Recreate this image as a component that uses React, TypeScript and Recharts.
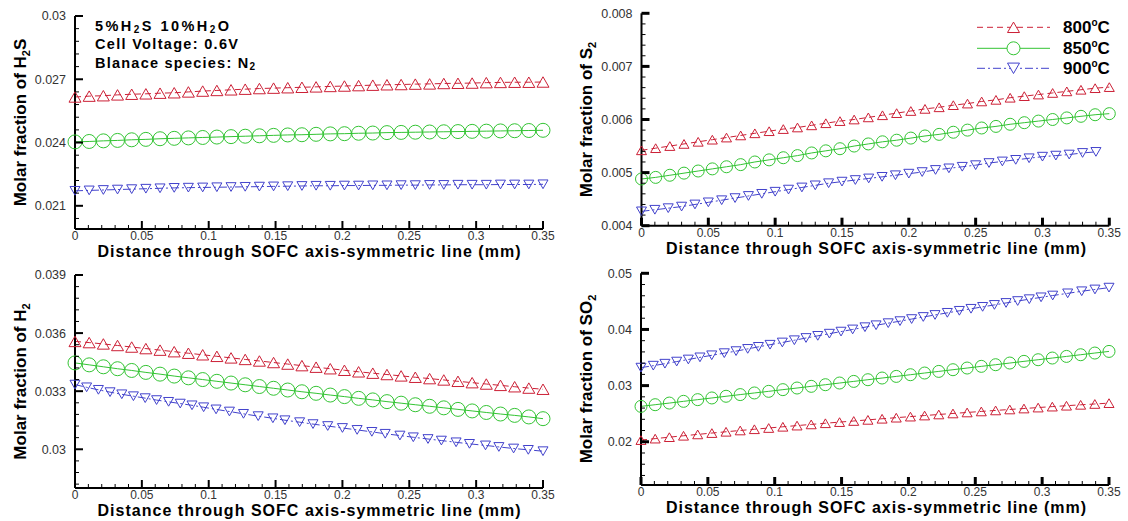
import { Line, LineChart, XAxis, YAxis } from "recharts";

const FONT = "'Liberation Sans', Arial, sans-serif";
const RED = "#cc2036";
const GREEN = "#33c433";
const BLUE = "#4242cc";

// x positions of the markers (mm)
const X_STD = [
  0, 0.0106, 0.0212, 0.0318, 0.0424, 0.053, 0.0636, 0.0742, 0.0848, 0.0955,
  0.1061, 0.1167, 0.1273, 0.1379, 0.1485, 0.1591, 0.1697, 0.1803, 0.1909, 0.2015,
  0.2121, 0.2227, 0.2333, 0.2439, 0.2545, 0.2652, 0.2758, 0.2864, 0.297, 0.3076,
  0.3182, 0.3288, 0.3394, 0.35,
];
const X_S2_900 = [
  0, 0.01, 0.02, 0.03, 0.04, 0.05, 0.06, 0.07, 0.08, 0.09, 0.1, 0.11, 0.12, 0.13,
  0.14, 0.15, 0.16, 0.17, 0.18, 0.19, 0.2, 0.21, 0.22, 0.23, 0.24, 0.25, 0.26,
  0.27, 0.28, 0.29, 0.3, 0.31, 0.32, 0.33, 0.34,
];
const X_H2_900 = [
  0, 0.0087, 0.0175, 0.0262, 0.035, 0.0437, 0.0525, 0.061, 0.07, 0.0787,
  0.0875, 0.0962, 0.1055, 0.1155, 0.126, 0.137, 0.148, 0.157, 0.168, 0.178,
  0.189, 0.2, 0.211, 0.222, 0.232, 0.243, 0.253, 0.264, 0.274, 0.285,
  0.295, 0.307, 0.317, 0.328, 0.339, 0.35,
];
const X_SO2_900 = [
  0, 0.0092, 0.0179, 0.0267, 0.0354, 0.0441, 0.0529, 0.0623, 0.0711, 0.0798,
  0.0878, 0.0965, 0.1057, 0.1147, 0.1234, 0.1322, 0.1409, 0.1496, 0.1583, 0.1675,
  0.1758, 0.1849, 0.1937, 0.2024, 0.2111, 0.2199, 0.2291, 0.2381, 0.2468, 0.2555,
  0.2643, 0.273, 0.2817, 0.2904, 0.2992, 0.3079, 0.3191, 0.3296, 0.3395, 0.35,
];

// H2S molar fraction
const H2S_800 = [
  0.02616, 0.0262, 0.02622, 0.02626, 0.02629, 0.02631, 0.02634, 0.02636, 0.0264, 0.02644,
  0.02647, 0.0265, 0.02653, 0.02656, 0.02658, 0.0266, 0.02662, 0.02664, 0.02666, 0.02668,
  0.0267, 0.02672, 0.02674, 0.02675, 0.02677, 0.02678, 0.0268, 0.02681, 0.02682, 0.02684,
  0.02685, 0.02686, 0.02686, 0.02687,
];
const H2S_850 = [
  0.02403, 0.02405, 0.02408, 0.0241, 0.02413, 0.02415, 0.02418, 0.0242, 0.02422, 0.02424,
  0.02426, 0.02428, 0.0243, 0.02432, 0.02434, 0.02436, 0.02437, 0.02439, 0.02441, 0.02442,
  0.02444, 0.02445, 0.02447, 0.02448, 0.02449, 0.0245, 0.02451, 0.02452, 0.02453, 0.02454,
  0.02455, 0.02456, 0.02457, 0.02458,
];
const H2S_900 = [
  0.02171, 0.02173, 0.02175, 0.02177, 0.02179, 0.02181, 0.02183, 0.02185, 0.02186, 0.02187,
  0.02188, 0.02189, 0.0219, 0.02191, 0.02192, 0.02193, 0.02194, 0.02195, 0.02195, 0.02196,
  0.02196, 0.02197, 0.02197, 0.02198, 0.02198, 0.02199, 0.02199, 0.022, 0.022, 0.022,
  0.02201, 0.02201, 0.02201, 0.02202,
];

// S2 molar fraction
const S2_800 = [
  0.00542, 0.00546, 0.0055, 0.00554, 0.00558, 0.00562, 0.00566, 0.0057, 0.00574, 0.00578,
  0.00582, 0.00585, 0.00589, 0.00593, 0.00597, 0.006, 0.00604, 0.00608, 0.00612, 0.00616,
  0.0062, 0.00623, 0.00627, 0.0063, 0.00634, 0.00637, 0.00641, 0.00644, 0.00647, 0.0065,
  0.00653, 0.00656, 0.00659, 0.00661,
];
const S2_850 = [
  0.00488, 0.00491, 0.00495, 0.00499, 0.00503, 0.00507, 0.00511, 0.00515, 0.0052, 0.00524,
  0.00528, 0.00532, 0.00537, 0.00541, 0.00545, 0.0055, 0.00554, 0.00558, 0.00561, 0.00565,
  0.00569, 0.00572, 0.00576, 0.0058, 0.00584, 0.00587, 0.00591, 0.00594, 0.00597, 0.006,
  0.00603, 0.00606, 0.00609, 0.00611,
];
const S2_900 = [
  0.00427, 0.0043, 0.00433, 0.00436, 0.0044, 0.00444, 0.00448, 0.00452, 0.00456, 0.0046,
  0.00464, 0.00468, 0.00472, 0.00476, 0.0048, 0.00483, 0.00486, 0.00489, 0.00492, 0.00495,
  0.00498, 0.00501, 0.00505, 0.00508, 0.00511, 0.00514, 0.00518, 0.00521, 0.00524, 0.00527,
  0.0053, 0.00532, 0.00534, 0.00537, 0.00539,
];

// H2 molar fraction
const H2_800 = [
  0.03557, 0.03551, 0.03544, 0.03536, 0.03528, 0.0352, 0.03512, 0.03504, 0.03496, 0.03488,
  0.0348, 0.03472, 0.03464, 0.03456, 0.03448, 0.0344, 0.03432, 0.03424, 0.03416, 0.03408,
  0.034, 0.03393, 0.03386, 0.03379, 0.03372, 0.03365, 0.03358, 0.03351, 0.03344, 0.03337,
  0.0333, 0.03323, 0.03316, 0.0331,
];
const H2_850 = [
  0.03446, 0.03436, 0.03426, 0.03416, 0.03407, 0.03397, 0.03388, 0.03378, 0.03369, 0.0336,
  0.03351, 0.03342, 0.03333, 0.03324, 0.03315, 0.03306, 0.03297, 0.03289, 0.0328, 0.03272,
  0.03263, 0.03255, 0.03246, 0.03238, 0.0323, 0.03222, 0.03214, 0.03206, 0.03198, 0.0319,
  0.03182, 0.03175, 0.03167, 0.03158,
];
const H2_900 = [
  0.03334, 0.0332, 0.03307, 0.03295, 0.03284, 0.03274, 0.03264, 0.03254, 0.03245, 0.03236,
  0.03227, 0.03217, 0.03206, 0.03195, 0.03183, 0.03171, 0.0316, 0.0315, 0.0314, 0.0313,
  0.0312, 0.0311, 0.031, 0.0309, 0.0308, 0.03071, 0.03062, 0.03053, 0.03045, 0.03036,
  0.03028, 0.0302, 0.03012, 0.03004, 0.02997, 0.0299,
];

// SO2 molar fraction
const SO2_800 = [
  0.0203, 0.02056, 0.02082, 0.02107, 0.02131, 0.02155, 0.02178, 0.02201, 0.02223, 0.02245,
  0.02267, 0.02288, 0.02309, 0.0233, 0.0235, 0.0237, 0.0239, 0.0241, 0.02429, 0.02448,
  0.02467, 0.02486, 0.02504, 0.02522, 0.0254, 0.02558, 0.02575, 0.02592, 0.02609, 0.02626,
  0.02642, 0.02658, 0.02673, 0.02688,
];
const SO2_850 = [
  0.0263, 0.0266, 0.02689, 0.0272, 0.0275, 0.0278, 0.0281, 0.0284, 0.02869, 0.02898,
  0.02928, 0.02957, 0.02987, 0.03016, 0.03046, 0.03075, 0.03105, 0.03135, 0.03164, 0.03194,
  0.03224, 0.03253, 0.03283, 0.03313, 0.03343, 0.03372, 0.03402, 0.03432, 0.03461, 0.03491,
  0.0352, 0.0355, 0.0358, 0.03609,
];
const SO2_900 = [
  0.0332, 0.03355, 0.0339, 0.03428, 0.03465, 0.03503, 0.0354, 0.03578, 0.03614, 0.03654,
  0.0369, 0.03728, 0.03768, 0.03808, 0.03848, 0.03886, 0.03925, 0.03962, 0.04, 0.0404,
  0.04075, 0.04112, 0.04148, 0.04185, 0.04222, 0.04258, 0.04296, 0.04332, 0.04368, 0.04402,
  0.04437, 0.04472, 0.04506, 0.04539, 0.04572, 0.04604, 0.04643, 0.0468, 0.04712, 0.04745,
];

// axis ticks
const X_MAJOR = [0, 0.05, 0.1, 0.15, 0.2, 0.25, 0.3, 0.35];
const X_MINOR = [
  0.01, 0.02, 0.03, 0.04, 0.06, 0.07, 0.08, 0.09, 0.11, 0.12, 0.13, 0.14, 0.16, 0.17,
  0.18, 0.19, 0.21, 0.22, 0.23, 0.24, 0.26, 0.27, 0.28, 0.29, 0.31, 0.32, 0.33, 0.34,
];
const H2S_MAJOR = [0.021, 0.024, 0.027, 0.03];
const H2S_MINOR = [0.0204, 0.0216, 0.0222, 0.0228, 0.0234, 0.0246, 0.0252, 0.0258, 0.0264, 0.0276, 0.0282, 0.0288, 0.0294];
const S2_MAJOR = [0.004, 0.005, 0.006, 0.007, 0.008];
const S2_MINOR = [0.0042, 0.0044, 0.0046, 0.0048, 0.0052, 0.0054, 0.0056, 0.0058, 0.0062, 0.0064, 0.0066, 0.0068, 0.0072, 0.0074, 0.0076, 0.0078];
const H2_MAJOR = [0.03, 0.033, 0.036, 0.039];
const H2_MINOR = [0.0282, 0.0288, 0.0294, 0.0306, 0.0312, 0.0318, 0.0324, 0.0336, 0.0342, 0.0348, 0.0354, 0.0366, 0.0372, 0.0378, 0.0384];
const SO2_MAJOR = [0.02, 0.03, 0.04, 0.05];
const SO2_MINOR = [0.014, 0.016, 0.018, 0.022, 0.024, 0.026, 0.028, 0.032, 0.034, 0.036, 0.038, 0.042, 0.044, 0.046, 0.048];

const TEMPS = ["800", "850", "900"];

type Shape = "up" | "circle" | "down";
const STYLES: { color: string; dash?: string; shape: Shape }[] = [
  { color: RED, dash: "6 4", shape: "up" },
  { color: GREEN, shape: "circle" },
  { color: BLUE, dash: "8 3 2 3", shape: "down" },
];

const pts = (xs: number[], ys: number[]) => xs.map((x, i) => ({ x, y: ys[i] }));

function markerPath(shape: Shape, cx: number, cy: number, s: number) {
  const h = s * 0.87;
  if (shape === "up")
    return `M${cx - s / 2},${cy + h / 2} L${cx + s / 2},${cy + h / 2} L${cx},${cy - h / 2} Z`;
  if (shape === "down")
    return `M${cx - s / 2},${cy - h / 2} L${cx + s / 2},${cy - h / 2} L${cx},${cy + h / 2} Z`;
  const r = s / 2;
  return `M${cx - r},${cy} a${r},${r} 0 1,0 ${2 * r},0 a${r},${r} 0 1,0 ${-2 * r},0`;
}

type PanelProps = {
  left: number;
  top: number;
  width: number;
  height: number;
  margin: { top: number; right: number; bottom: number; left: number };
  yDomain: [number, number];
  yMajor: number[];
  yMinor: number[];
  xs: number[][];
  ys: number[][];
  sizes: number[];
  tickGap: number;
  majorW: number;
};

function Panel(p: PanelProps) {
  const xTicks = [...X_MAJOR, ...X_MINOR].sort((a, b) => a - b);
  const yTicks = [...p.yMajor, ...p.yMinor].sort((a, b) => a - b);

  const XTick = (t: any) => {
    const v = t.payload.value;
    const major = X_MAJOR.includes(v);
    const axisY = t.y - p.tickGap;
    return (
      <g key={`xt-${t.index}`}>
        <line x1={t.x} x2={t.x} y1={axisY} y2={axisY - (major ? 8 : 4)} stroke="#000" strokeWidth={major ? p.majorW : 1} />
        {major && (
          <text x={t.x} y={t.y} dy="0.71em" textAnchor="middle" fontSize={12} fill="#333" fontFamily={FONT}>
            {String(v)}
          </text>
        )}
      </g>
    );
  };

  const YTick = (t: any) => {
    const v = t.payload.value;
    const major = p.yMajor.includes(v);
    const axisX = t.x + 9;
    return (
      <g key={`yt-${t.index}`}>
        <line x1={axisX} x2={axisX + (major ? 8 : 4)} y1={t.y} y2={t.y} stroke="#000" strokeWidth={major ? p.majorW : 1} />
        {major && (
          <text x={t.x} y={t.y} dy="0.355em" textAnchor="end" fontSize={12.5} fill="#333" fontFamily={FONT}>
            {String(v)}
          </text>
        )}
      </g>
    );
  };

  return (
    <div style={{ position: "absolute", left: p.left, top: p.top }}>
      <LineChart width={p.width} height={p.height} margin={p.margin}>
        <XAxis
          type="number"
          dataKey="x"
          domain={[0, 0.35]}
          ticks={xTicks}
          interval={0}
          height={30}
          tickSize={0}
          tickMargin={p.tickGap}
          tickLine={false}
          axisLine={{ stroke: "#000", strokeWidth: 2 }}
          tick={XTick}
        />
        <YAxis
          type="number"
          domain={p.yDomain}
          ticks={yTicks}
          interval={0}
          width={60}
          tickSize={0}
          tickMargin={9}
          tickLine={false}
          axisLine={{ stroke: "#000", strokeWidth: 2 }}
          tick={YTick}
        />
        {p.ys.map((ys, i) => {
          const st = STYLES[i];
          return (
            <Line
              key={TEMPS[i]}
              data={pts(p.xs[i], ys)}
              dataKey="y"
              type="linear"
              stroke={st.color}
              strokeWidth={1}
              strokeDasharray={st.dash}
              isAnimationActive={false}
              dot={(d: any) => (
                <path
                  key={`d-${i}-${d.index}`}
                  d={markerPath(st.shape, d.cx, d.cy, p.sizes[i])}
                  fill="none"
                  stroke={st.color}
                  strokeWidth={1}
                />
              )}
            />
          );
        })}
      </LineChart>
    </div>
  );
}

const TB = { fontFamily: FONT, fontWeight: 700 as const, fill: "#000" };

function YTitle({ x, y, species }: { x: number; y: number; species: "H2S" | "S2" | "H2" | "SO2" }) {
  const pre = { H2S: "H", S2: "S", H2: "H", SO2: "SO" }[species];
  const post = species === "H2S" ? "S" : "";
  return (
    <text transform={`translate(${x},${y}) rotate(-90)`} textAnchor="middle" fontSize={17} {...TB}>
      {`Molar fraction of ${pre}`}
      <tspan dy={4} fontSize={11}>2</tspan>
      <tspan dy={-4}>{post}</tspan>
    </text>
  );
}

const XTITLE = "Distance through SOFC axis-symmetric line (mm)";

export default function App() {
  return (
    <div style={{ position: "absolute", left: 0, top: 0, width: 1128, height: 521, background: "#fff", overflow: "hidden" }}>
      <Panel
        left={0} top={0} width={560} height={262}
        margin={{ top: 16, right: 17, bottom: 3, left: 15 }}
        yDomain={[0.0199, 0.03]} yMajor={H2S_MAJOR} yMinor={H2S_MINOR}
        xs={[X_STD, X_STD, X_STD]} ys={[H2S_800, H2S_850, H2S_900]}
        sizes={[12, 14, 10]} tickGap={2} majorW={2}
      />
      <Panel
        left={560} top={0} width={568} height={262}
        margin={{ top: 13.3, right: 18.7, bottom: 6.3, left: 21.5 }}
        yDomain={[0.004, 0.008]} yMajor={S2_MAJOR} yMinor={S2_MINOR}
        xs={[X_STD, X_STD, X_S2_900]} ys={[S2_800, S2_850, S2_900]}
        sizes={[10, 12, 10]} tickGap={2.5} majorW={3}
      />
      <Panel
        left={0} top={262} width={560} height={259}
        margin={{ top: 13, right: 17, bottom: 3, left: 15 }}
        yDomain={[0.028, 0.039]} yMajor={H2_MAJOR} yMinor={H2_MINOR}
        xs={[X_STD, X_STD, X_H2_900]} ys={[H2_800, H2_850, H2_900]}
        sizes={[12, 14, 10]} tickGap={2} majorW={2}
      />
      <Panel
        left={560} top={262} width={568} height={259}
        margin={{ top: 11.3, right: 19, bottom: 6, left: 21 }}
        yDomain={[0.0123, 0.05]} yMajor={SO2_MAJOR} yMinor={SO2_MINOR}
        xs={[X_STD, X_STD, X_SO2_900]} ys={[SO2_800, SO2_850, SO2_900]}
        sizes={[10, 12, 10]} tickGap={2.5} majorW={3}
      />

      <svg width={1128} height={521} style={{ position: "absolute", left: 0, top: 0, pointerEvents: "none" }}>
        {/* axis titles */}
        <text x={97.5} y={256.8} fontSize={16} textLength={423} lengthAdjust="spacing" {...TB}>{XTITLE}</text>
        <text x={666} y={254} fontSize={16} textLength={420} lengthAdjust="spacing" {...TB}>{XTITLE}</text>
        <text x={97.5} y={515.8} fontSize={16} textLength={423} lengthAdjust="spacing" {...TB}>{XTITLE}</text>
        <text x={666} y={513.3} fontSize={16} textLength={420} lengthAdjust="spacing" {...TB}>{XTITLE}</text>
        <YTitle x={26} y={122.5} species="H2S" />
        <YTitle x={592} y={119.5} species="S2" />
        <YTitle x={26} y={381.5} species="H2" />
        <YTitle x={591.7} y={379} species="SO2" />

        {/* operating conditions */}
        <text x={95} y={30.5} fontSize={14.5} textLength={134} lengthAdjust="spacing" {...TB}>
          5%H<tspan dy={2.5} fontSize={10}>2</tspan><tspan dy={-2.5}>S 10%H</tspan>
          <tspan dy={2.5} fontSize={10}>2</tspan><tspan dy={-2.5}>O</tspan>
        </text>
        <text x={95} y={48.5} fontSize={14.5} textLength={143} lengthAdjust="spacing" {...TB}>Cell Voltage: 0.6V</text>
        <text x={95} y={67.5} fontSize={14.5} textLength={160} lengthAdjust="spacing" {...TB}>
          Blanace species: N<tspan dy={2.5} fontSize={10}>2</tspan>
        </text>

        {/* legend */}
        {TEMPS.map((t, i) => {
          const st = STYLES[i];
          const ly = [27.3, 48.3, 68.3][i];
          return (
            <g key={t}>
              <line x1={977} x2={1050} y1={ly} y2={ly} stroke={st.color} strokeWidth={1} strokeDasharray={st.dash} />
              <path d={markerPath(st.shape, 1013.5, ly, i === 1 ? 13 : 12)} fill="#fff" stroke={st.color} strokeWidth={1} />
              <text x={1063} y={ly + 6} fontSize={17} {...TB}>
                {t}
                <tspan dy={-7} fontSize={10}>o</tspan>
                <tspan dy={7}>C</tspan>
              </text>
            </g>
          );
        })}
      </svg>
    </div>
  );
}
